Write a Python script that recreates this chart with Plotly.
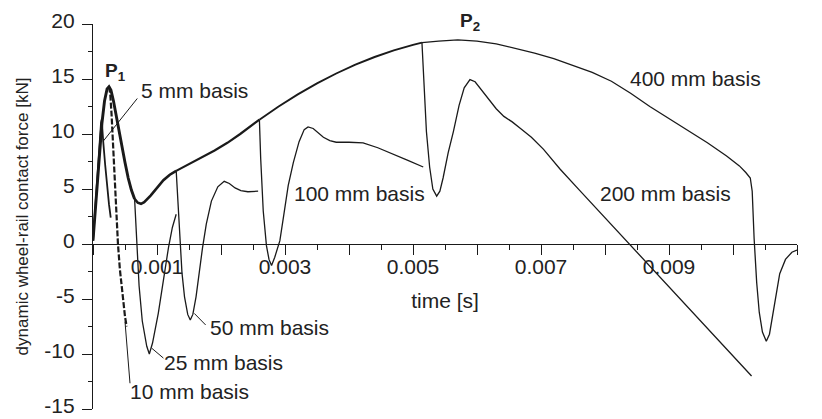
import plotly.graph_objects as go

# ---------------- data (time in s, force in kN) ----------------
# 400 mm basis (upper envelope shared by all longer bases)
t400 = [0, 0.00003, 0.00006, 0.0001, 0.00014, 0.00018, 0.00022, 0.00025, 0.00028, 0.00032,
        0.00036, 0.0004, 0.00046, 0.0005, 0.00055, 0.0006, 0.00065, 0.0007, 0.00075, 0.0008,
        0.0009, 0.001, 0.0011, 0.0012, 0.0013, 0.0014, 0.0015, 0.0016, 0.0017, 0.0019,
        0.0021, 0.0023, 0.0026, 0.0029, 0.0032, 0.0035, 0.0038, 0.0041, 0.0044, 0.0047,
        0.005, 0.00514, 0.0054, 0.0057, 0.006, 0.0063, 0.0066, 0.0069, 0.0072, 0.0075,
        0.0078, 0.0081, 0.0084, 0.0087, 0.009, 0.0093, 0.0096, 0.0099, 0.0101, 0.0102,
        0.01027, 0.0103, 0.01033, 0.01037, 0.01041, 0.01046, 0.01052, 0.01057, 0.01063,
        0.01068, 0.01073, 0.01082, 0.01092, 0.011]
f400 = [0.3, 2.7, 5.3, 8.4, 11.0, 13.0, 14.1, 14.3, 14.0, 13.0,
        11.7, 10.4, 8.6, 7.4, 6.0, 4.9, 4.1, 3.75, 3.65, 3.8,
        4.4, 5.15, 5.8, 6.3, 6.65, 6.95, 7.25, 7.55, 7.85, 8.5,
        9.2, 10.0, 11.3, 12.5, 13.6, 14.6, 15.5, 16.3, 17.0, 17.6,
        18.1, 18.3, 18.45, 18.55, 18.45, 18.2, 17.8, 17.35, 16.85, 16.25,
        15.6, 14.8, 13.7, 12.5, 11.4, 10.3, 9.2, 8.0, 7.1, 6.5,
        6.0, 4.8, 0.5, -3.5, -6.2, -8.0, -8.85, -8.2, -6.2,
        -4.2, -2.7, -1.4, -0.75, -0.55]

# branches leaving the envelope
t200 = [0.00514, 0.00517, 0.00521, 0.00526, 0.00531, 0.00537, 0.00542, 0.00547, 0.00555,
        0.00563, 0.00572, 0.0058, 0.00589, 0.00597, 0.00606, 0.00618, 0.0063, 0.00642,
        0.00655, 0.00668, 0.00685, 0.00704, 0.0073, 0.0076, 0.008, 0.0084, 0.0088, 0.0092,
        0.0096, 0.01, 0.01029]
f200 = [18.3, 14.5, 10.2, 7.0, 5.0, 4.35, 4.8, 6.0, 8.3,
        10.2, 12.6, 14.2, 14.95, 14.75, 14.1, 13.2, 12.3, 11.6,
        11.1, 10.5, 9.7, 8.6, 6.8, 4.9, 2.4, -0.1, -2.6, -5.1,
        -7.6, -10.1, -12.0]

t100 = [0.0026, 0.00262, 0.00266, 0.00271, 0.00275, 0.00279, 0.00284, 0.00292, 0.00298,
        0.00305, 0.00313, 0.00322, 0.0033, 0.00336, 0.00344, 0.00352, 0.0036, 0.0037,
        0.0038, 0.004, 0.00422, 0.00445, 0.00469, 0.00492, 0.00516]
f100 = [11.3, 7.8, 3.0, -0.15, -1.4, -1.95, -1.2, 0.3, 2.6,
        5.3, 7.4, 9.3, 10.4, 10.65, 10.5, 10.1, 9.7, 9.4,
        9.25, 9.25, 9.2, 8.75, 8.2, 7.6, 7.0]

t50 = [0.0013, 0.00133, 0.00136, 0.00139, 0.00143, 0.00148, 0.00152, 0.00156, 0.00161,
       0.00166, 0.00171, 0.00177, 0.00185, 0.00195, 0.00205, 0.00213, 0.00222, 0.00231,
       0.00242, 0.00258]
f50 = [6.65, 3.5, 0.0, -2.6, -4.8, -6.4, -6.9, -6.4, -4.8,
       -2.5, -0.4, 1.8, 3.9, 5.2, 5.7, 5.5, 5.1, 4.85,
       4.75, 4.8]

t25 = [0.00065, 0.00067, 0.00069, 0.00072, 0.00077, 0.00084, 0.00088, 0.00093, 0.00102,
       0.0011, 0.00118, 0.00124, 0.0013]
f25 = [4.1, 1.5, -1.2, -3.8, -7.0, -9.3, -10.0, -9.0, -6.3,
       -3.2, -0.3, 1.5, 2.7]

t10 = [0.00025, 0.00027, 0.00029, 0.00031, 0.00033, 0.00035, 0.00037, 0.00039, 0.00042,
       0.00046, 0.0005, 0.000526]
f10 = [14.3, 13.6, 11.8, 9.4, 7.0, 4.6, 2.2, 0.0, -2.3,
       -4.7, -6.6, -7.5]

t5 = [0, 0.00003, 0.00006, 0.00009, 0.00011, 0.000125, 0.000136, 0.000148, 0.00016,
      0.00019, 0.00022, 0.00025, 0.000277]
f5 = [0.3, 2.9, 5.8, 8.4, 10.0, 11.0, 11.3, 10.6, 9.3,
      7.2, 5.2, 3.6, 2.4]

# envelope stroke widths between the branch points (overlapping curves look bolder)
branch_times = [0, 0.00065, 0.0013, 0.0026, 0.00514, 0.011]
branch_widths = [2.9, 2.6, 2.2, 1.9, 1.3]

ytick_vals = [-15, -10, -5, 0, 5, 10, 15, 20]
ytick_text = ["-15", "-10", "-5", "0", "5", "10", "15", "20"]

# labels in data coords: (text, t, F)
labels = [
    ("<b>P<sub>1</sub></b>", 0.000156, 15.6),
    ("5 mm basis", 0.000719, 13.95),
    ("400 mm basis", 0.00836, 15.04),
    ("100 mm basis", 0.00311, 4.57),
    ("200 mm basis", 0.00789, 4.57),
    ("50 mm basis", 0.0018, -7.6),
    ("25 mm basis", 0.00108, -10.76),
    ("10 mm basis", 0.000547, -13.38),
]
# P2 sits just above the top of the value axis: (text, t, paper y)
top_labels = [("<b>P<sub>2</sub></b>", 0.0057, 1.006)]

# leader lines: (head t, head F, tail t, tail F)
leaders = [
    (0.00016, 9.35, 0.000692, 13.23),
    (0.001583, -6.31, 0.00176, -7.36),
    (0.000917, -9.47, 0.0011, -10.37),
    (0.0005, -7.06, 0.000578, -12.66),
]

INK = "#1a1a1a"
TXT = "#222222"

fig = go.Figure()

for a, b, w in zip(branch_times[:-1], branch_times[1:], branch_widths):
    idx = [i for i, t in enumerate(t400) if a <= t <= b]
    fig.add_trace(go.Scatter(x=[t400[i] for i in idx], y=[f400[i] for i in idx],
                             mode="lines", line=dict(color=INK, width=w), hoverinfo="skip"))

for tt, ff in [(t200, f200), (t100, f100), (t50, f50), (t25, f25)]:
    fig.add_trace(go.Scatter(x=tt, y=ff, mode="lines", line=dict(color=INK, width=1.3),
                             hoverinfo="skip"))

fig.add_trace(go.Scatter(x=t5, y=f5, mode="lines", line=dict(color=INK, width=1.8),
                         hoverinfo="skip"))
fig.add_trace(go.Scatter(x=t10, y=f10, mode="lines",
                         line=dict(color=INK, width=2.2, dash="6px,2px"), hoverinfo="skip"))

for ht, hf, tt, tf in leaders:
    fig.add_trace(go.Scatter(x=[ht, tt], y=[hf, tf], mode="lines",
                             line=dict(color=INK, width=1), hoverinfo="skip"))

annotations = []
for text, t, f in labels:
    annotations.append(dict(x=t, y=f, xref="x", yref="y", text=text, showarrow=False,
                            xanchor="left", yanchor="middle",
                            font=dict(size=19 if text.startswith("<b>") else 21, color=TXT)))
for text, t, py in top_labels:
    annotations.append(dict(x=t, y=py, xref="x", yref="paper", text=text, showarrow=False,
                            xanchor="left", yanchor="middle", font=dict(size=19, color=TXT)))

fig.update_layout(
    width=822, height=419,
    margin=dict(l=93, r=25, t=24, b=10, autoexpand=False),
    plot_bgcolor="white", paper_bgcolor="white",
    showlegend=False,
    font=dict(family="Liberation Sans, Arial, sans-serif", size=21, color=TXT),
    annotations=annotations,
    xaxis=dict(
        range=[0, 0.011], anchor="free", position=15 / 35, automargin=False,
        showline=True, linecolor=INK, linewidth=1.3,
        ticks="outside", ticklen=10, tickwidth=1.3, tickcolor=INK,
        tickmode="linear", tick0=0.001, dtick=0.001, ticklabelstep=2,
        tickformat=".3f", ticklabelstandoff=-6,
        showgrid=False, zeroline=False,
        minor=dict(tickmode="linear", tick0=0, dtick=0.0005, ticklen=5, tickwidth=1.3,
                   tickcolor=INK, ticks="outside", showgrid=False),
        title=dict(text="time [s]", standoff=15, font=dict(size=21)),
    ),
    yaxis=dict(
        range=[-15, 20], showline=True, linecolor=INK, linewidth=1.3, automargin=False,
        ticks="outside", ticklen=10, tickwidth=1.3, tickcolor=INK,
        tickmode="array", tickvals=ytick_vals, ticktext=ytick_text,
        ticklabeloverflow="allow", ticklabelstandoff=3, ticklabelshift=-3,
        showgrid=False, zeroline=False,
        minor=dict(tickmode="linear", tick0=0, dtick=2.5, ticklen=4, tickwidth=1.3,
                   tickcolor=INK, ticks="outside", showgrid=False),
        title=dict(text="dynamic wheel-rail contact force [kN]", standoff=11,
                   font=dict(size=17)),
    ),
)

fig.write_html("out.html")
